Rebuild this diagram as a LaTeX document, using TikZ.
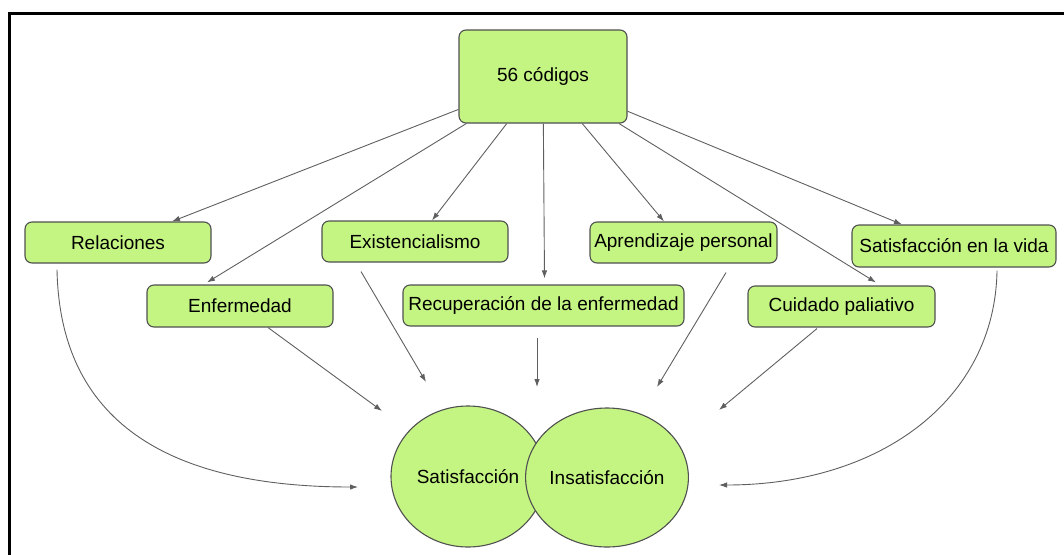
\documentclass[tikz,border=0pt]{standalone}
\usepackage{fontspec}
\setmainfont{Liberation Sans}
\usetikzlibrary{arrows.meta,shapes.geometric}
\definecolor{boxgreen}{RGB}{196,245,131}
\definecolor{boxedge}{RGB}{80,80,80}
\definecolor{linegray}{RGB}{95,95,95}
\begin{document}
\begin{tikzpicture}[x=1pt,y=-1pt,
  box/.style={draw=boxedge,line width=1.1pt,fill=boxgreen,rounded corners=7pt,
    inner sep=0pt,font=\fontsize{19}{22}\selectfont},
  blob/.style={ellipse,draw=boxedge,line width=1.1pt,fill=boxgreen,inner sep=0pt,
    font=\fontsize{19}{22}\selectfont},
  arr/.style={draw=linegray,line width=0.9pt,-{Latex[length=8pt,width=5.5pt]}}]
\useasboundingbox (0,0) rectangle (1064,554);
\draw[line width=3pt,black] (9.5,560) -- (9.5,13.5) -- (1070,13.5);
% nodes
\node[box,minimum width=168pt,minimum height=93pt] (top) at (543,76.5) {56 códigos};
\node[box,minimum width=186pt,minimum height=41pt] (rel) at (118,242.5) {Relaciones};
\node[box,minimum width=186pt,minimum height=41pt] (exi) at (415,241.5) {Existencialismo};
\node[box,minimum width=186pt,minimum height=42pt] (enf) at (240,306) {Enfermedad};
\node[box,minimum width=281pt,minimum height=41pt] (rec) at (543.5,305.5) {Recuperación de la enfermedad};
\node[box,minimum width=187pt,minimum height=41pt] (apr) at (683.5,242.5) {Aprendizaje personal};
\node[box,minimum width=187pt,minimum height=41pt] (cui) at (841.5,306.5) {Cuidado paliativo};
\node[box,minimum width=204pt,minimum height=42pt] (sav) at (954,246) {Satisfacción en la vida};
\node[blob,minimum width=154pt,minimum height=141pt] (sat) at (468,476.5) {Satisfacción};
\node[blob,minimum width=158pt,minimum height=139pt] (ins) at (607,477.5) {Insatisfacción};
% free arrow tips
\coordinate (tRel) at (358,487);
\coordinate (tEnf) at (382,411);
\coordinate (tExi) at (426,382);
\coordinate (tRec) at (537,387);
\coordinate (tApr) at (657,387);
\coordinate (tCui) at (719,410);
\coordinate (tSav) at (719,485);
% from top node
\draw[arr] (top) -- ([xshift=54pt]rel.north);
\draw[arr] (top) -- ([xshift=-33pt,yshift=2pt]enf.north);
\draw[arr] (top) -- ([xshift=17pt]exi.north);
\draw[arr] (top) -- ([xshift=1pt,yshift=6pt]rec.north);
\draw[arr] (top) -- ([xshift=-19.5pt]apr.north);
\draw[arr] (top) -- ([xshift=34.5pt,yshift=3pt]cui.north);
\draw[arr] (top) -- ([xshift=-52pt]sav.north);
% towards the circles
\draw[arr] ([xshift=-61pt,yshift=-6pt]rel.south) .. controls (60,430) and (180,487) .. (tRel);
\draw[arr] ([xshift=28pt]enf.south) -- (tEnf);
\draw[arr] ([xshift=-54pt,yshift=-9pt]exi.south) -- (tExi);
\draw[arr] ([xshift=-6.5pt,yshift=-11pt]rec.south) -- (tRec);
\draw[arr] ([xshift=42.5pt,yshift=-9pt]apr.south) -- (tApr);
\draw[arr] ([xshift=-24.5pt,yshift=-1pt]cui.south) -- (tCui);
\draw[arr] ([xshift=43pt,yshift=-3pt]sav.south) .. controls (995,400) and (880,485) .. (tSav);
\end{tikzpicture}
\end{document}
